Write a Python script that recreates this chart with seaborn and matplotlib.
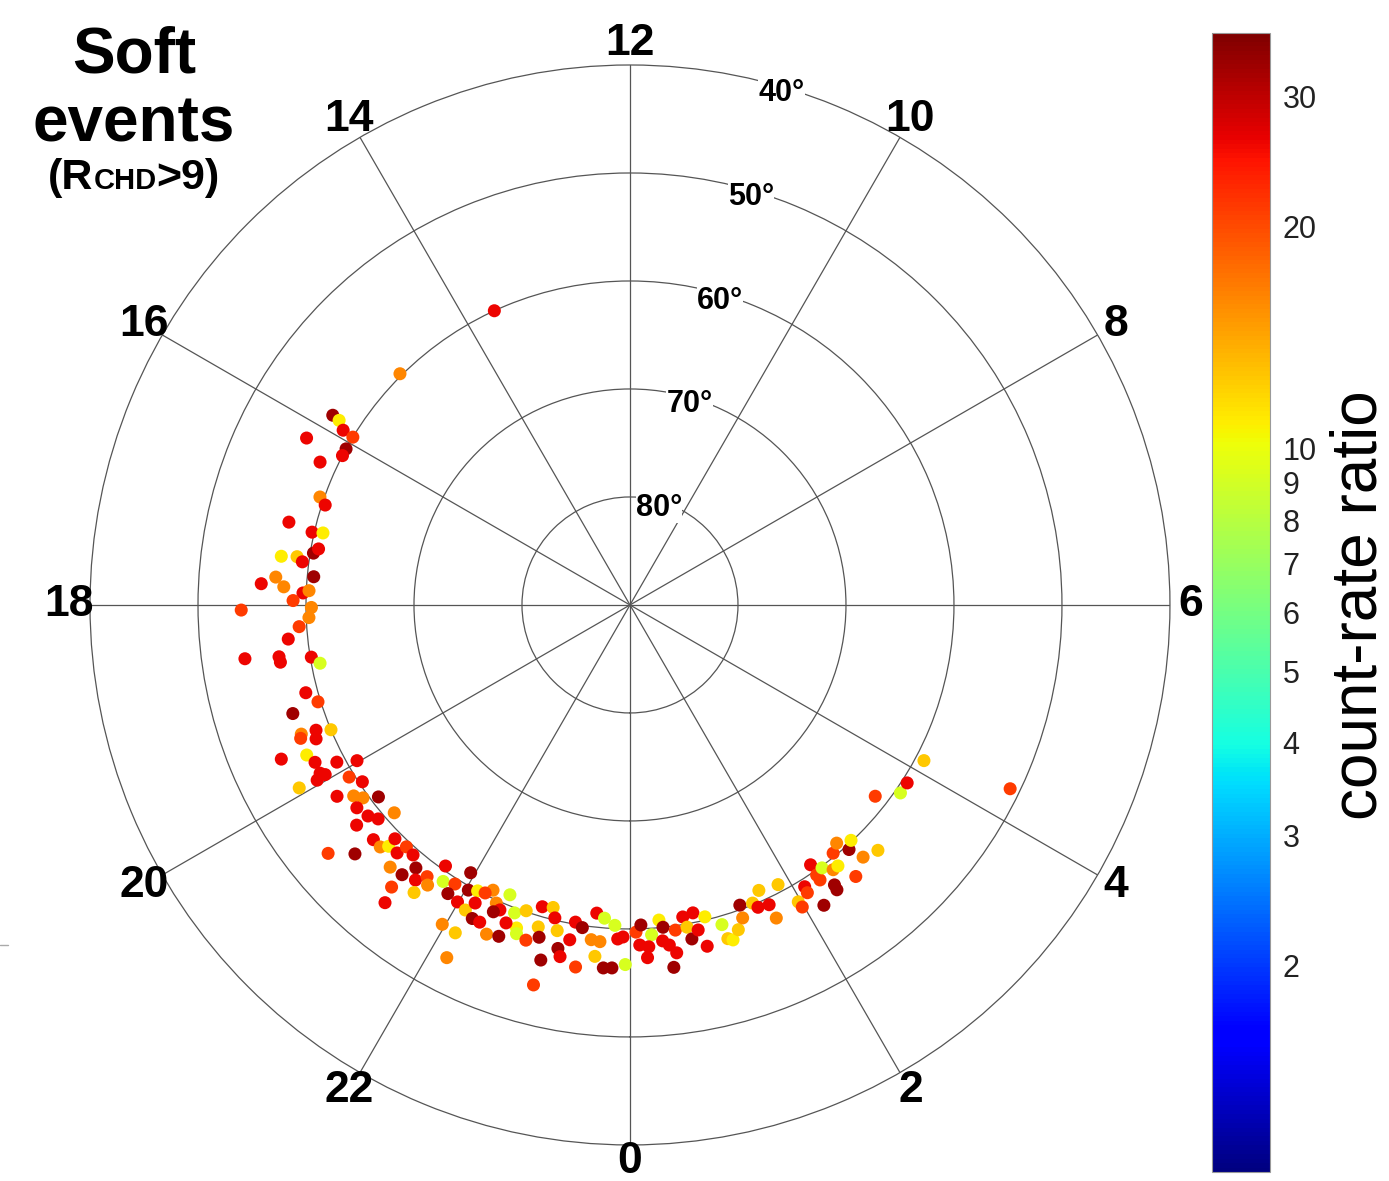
import numpy as np
import pandas as pd
import seaborn as sns
import matplotlib
matplotlib.use('Agg')
import matplotlib.pyplot as plt
import matplotlib.ticker as mticker
from matplotlib.colors import LogNorm
from matplotlib.lines import Line2D

# event positions: magnetic local time (h), magnetic latitude (deg), count-rate ratio
mlt = [13.65, 14.99, 15.83, 15.84, 15.91, 15.92, 16.18, 16.08, 16.17, 16.35,
       16.72, 16.79, 17.09, 17.14, 17.12, 17.47, 17.45, 17.50, 17.38, 17.32,
       17.70, 17.78, 17.80, 17.66, 17.86, 17.83, 17.95, 18.05, 18.03, 18.15,
       18.25, 18.38, 18.53, 18.56, 18.62, 18.62, 18.71, 19.01, 19.15, 19.19,
       19.43, 19.47, 19.45, 19.54, 19.51, 19.59, 19.66, 19.77, 19.90, 19.95,
       19.94, 19.93, 19.88, 19.98, 20.10, 20.23, 20.21, 20.31, 20.39, 20.49,
       20.44, 20.59, 20.69, 20.76, 20.59, 20.83, 20.94, 21.00, 20.99, 21.12,
       21.15, 21.27, 20.63, 20.81, 21.17, 21.32, 21.39, 21.32, 21.47, 21.55,
       21.61, 21.54, 21.37, 21.65, 21.73, 21.86, 21.95, 21.85, 21.99, 22.11,
       22.03, 22.13, 22.17, 22.22, 22.31, 22.29, 22.22, 22.39, 22.46, 22.40,
       22.50, 22.63, 22.71, 22.73, 22.58, 21.97, 22.13, 22.43, 22.56, 22.17,
       22.75, 22.85, 22.92, 22.94, 22.98, 23.05, 23.10, 23.16, 23.21, 23.25,
       23.06, 23.05, 23.32, 23.35, 23.44, 23.43, 23.59, 23.69, 23.82, 23.56,
       23.66, 23.62, 23.72, 23.81, 23.86, 23.92, 23.95, 0.07, 0.13, 0.25,
       0.35, 0.11, 0.21, 0.19, 0.39, 0.37, 0.44, 0.51, 0.46, 0.53,
       0.64, 0.77, 0.67, 0.70, 0.79, 0.90, 0.85, 1.07, 1.09, 1.14,
       1.23, 1.34, 1.32, 1.62, 1.49, 1.53, 1.66, 1.86, 1.67, 1.97,
       1.98, 2.12, 2.11, 2.32, 2.31, 2.31, 2.41, 2.19, 2.50, 2.62,
       2.41, 2.40, 2.73, 2.57, 2.79, 2.88, 2.65, 2.85, 3.02, 3.47,
       3.68, 3.82, 4.14, 4.28]

mlat = [60.0, 59.8, 57.35, 58.1, 58.9, 60.0, 56.3, 60.0, 60.0, 58.4,
        59.6, 60.3, 57.5, 59.8, 60.8, 57.4, 58.85, 59.4, 60.3, 60.7,
        57.1, 55.8, 57.9, 60.6, 59.7, 60.25, 58.8, 54.0, 60.5, 60.25,
        59.3, 58.2, 54.0, 57.15, 57.2, 60.1, 60.8, 58.9, 59.75, 57.2,
        57.3, 57.1, 58.7, 58.4, 60.0, 54.7, 57.0, 57.4, 57.35, 56.8,
        57.7, 55.0, 59.2, 60.9, 59.5, 60.3, 57.6, 58.9, 59.5, 60.7,
        58.5, 58.85, 59.4, 60.9, 57.5, 57.8, 57.8, 58.4, 59.3, 58.5,
        59.5, 59.35, 53.8, 55.65, 57.1, 57.3, 58.6, 55.8, 57.7, 58.6,
        58.0, 56.7, 54.3, 60.4, 59.1, 59.5, 61.15, 58.4, 58.2, 57.9,
        59.65, 60.0, 58.9, 57.5, 57.5, 60.7, 60.15, 59.75, 59.3, 58.9,
        60.95, 59.55, 58.3, 57.8, 58.4, 55.7, 55.6, 56.75, 57.0, 53.2,
        60.1, 57.5, 60.9, 59.0, 58.1, 61.1, 60.2, 59.1, 57.5, 56.8,
        56.1, 53.7, 58.5, 60.2, 59.8, 56.1, 61.3, 60.9, 60.3, 58.8,
        58.7, 57.3, 56.3, 56.35, 59.05, 59.25, 56.7, 59.7, 60.35, 59.4,
        60.7, 58.5, 58.3, 57.3, 60.0, 58.75, 58.3, 57.5, 56.2, 59.6,
        60.7, 60.9, 59.7, 58.55, 59.25, 60.3, 57.6, 59.2, 57.8, 57.55,
        58.3, 60.4, 59.2, 61.0, 60.15, 59.6, 59.4, 60.7, 58.0, 58.4,
        57.8, 59.3, 58.7, 60.7, 59.6, 59.05, 59.85, 56.9, 59.1, 60.3,
        57.9, 57.4, 60.8, 59.1, 59.6, 60.1, 57.3, 58.2, 57.7, 61.2,
        59.5, 59.5, 59.2, 50.9]

ratio = [26, 16, 33, 10.8, 26, 21, 26, 33, 26, 26,
         16, 26, 26, 26, 10.8, 10.8, 12.5, 26, 33, 26,
         16, 26, 16, 33, 26, 16, 21, 21, 16, 16,
         21, 26, 26, 26, 26, 26, 9.2, 26, 21, 33,
         16, 21, 26, 26, 12.5, 26, 10.8, 26, 26, 26,
         26, 12.5, 26, 26, 21, 26, 26, 16, 16, 33,
         26, 26, 26, 16, 26, 26, 16, 10.8, 26, 26,
         21, 26, 21, 33, 16, 33, 33, 21, 26, 21,
         16, 12.5, 26, 26, 9.2, 21, 33, 33, 26, 12.5,
         33, 10.8, 26, 33, 26, 16, 21, 16, 26, 33,
         9.2, 9.2, 10.8, 9.2, 26, 16, 12.5, 16, 33, 16,
         12.5, 21, 26, 12.5, 33, 12.5, 26, 12.5, 33, 26,
         33, 21, 26, 26, 33, 21, 26, 9.2, 9.2, 16,
         16, 12.5, 33, 33, 26, 26, 9.2, 21, 33, 9.2,
         10.8, 26, 26, 26, 33, 26, 26, 26, 33, 21,
         26, 26, 12.5, 33, 26, 10.8, 26, 9.2, 12.5, 10.8,
         12.5, 33, 16, 12.5, 12.5, 26, 26, 12.5, 16, 12.5,
         21, 26, 21, 26, 21, 21, 9.2, 33, 16, 21,
         33, 33, 16, 10.8, 33, 10.8, 21, 16, 12.5, 21,
         9.2, 26, 12.5, 21]

hour_ticks = list(range(0, 24, 2))
lat_circles = [80, 70, 60, 50, 40]
cbar_minor = [2, 3, 4, 5, 6, 7, 8, 9, 20, 30]

sns.set_theme(style='white')
plt.rcParams['font.family'] = ['Liberation Sans', 'DejaVu Sans']
plt.rcParams['text.color'] = 'black'

jet = matplotlib.colormaps['jet']

fig = plt.figure(figsize=(13.89, 11.81), dpi=100)
ax = fig.add_axes([0.0648, 0.0305, 0.7775, 0.9145], projection='polar')

df = pd.DataFrame({'theta': np.deg2rad(np.array(mlt) * 15),
                   'colat': 90 - np.array(mlat),
                   'ratio': ratio})
norm = LogNorm(vmin=1.05, vmax=36.5)
sns.scatterplot(data=df, x='theta', y='colat', hue='ratio', hue_norm=norm,
                palette=jet, s=88, linewidth=0, legend=False, ax=ax, zorder=3)

ax.set_theta_zero_location('S')
ax.set_theta_direction(1)
ax.set_ylim(0, 50)
ax.set_yticks([90 - l for l in lat_circles[:-1]])
ax.set_yticklabels([])
ax.set_xticks(np.deg2rad(np.array(hour_ticks) * 15))
ax.set_xticklabels([])
ax.set_xlabel('')
ax.set_ylabel('')
ax.grid(True, color='#555555', linewidth=0.9)
ax.spines['polar'].set_color('#555555')
ax.spines['polar'].set_linewidth(0.9)

for h in hour_ticks:
    r_lab = 51.5 if h == 0 else 51.95
    ax.text(np.deg2rad(h * 15), r_lab, str(h), ha='center', va='center',
            fontsize=32, fontweight='bold', color='black', clip_on=False)

for lat in lat_circles:
    ax.text(np.deg2rad(10.9 * 15), 90 - lat - 0.6, f'{lat}°', ha='center', va='center',
            fontsize=22, fontweight='bold', color='black', zorder=4,
            bbox=dict(facecolor='white', edgecolor='none', pad=0))

# colorbar
cax = fig.add_axes([0.8726, 0.0076, 0.0418, 0.9644])
sm = plt.cm.ScalarMappable(norm=norm, cmap=jet)
cbar = fig.colorbar(sm, cax=cax)
cbar.outline.set_edgecolor('#999999')
cbar.outline.set_linewidth(0.8)
cbar.set_ticks([10])
cbar.set_ticklabels(['10'])
cax.yaxis.set_minor_locator(mticker.FixedLocator(cbar_minor))
cax.yaxis.set_minor_formatter(mticker.FuncFormatter(lambda v, p: f'{v:g}'))
cax.tick_params(which='major', direction='in', length=32, width=1.4, color='#333333',
                labelsize=22, labelcolor='#222222', pad=9)
cax.tick_params(which='minor', direction='in', length=15, width=1.4, color='#333333',
                labelsize=22, labelcolor='#222222', pad=9)
fig.text(0.979, 0.4877, 'count-rate ratio', rotation=90, fontsize=46,
         ha='center', va='center')

# title block
fig.text(0.0965, 0.939, 'Soft', ha='center', va='baseline', fontsize=46, fontweight='bold')
fig.text(0.0965, 0.8798, 'events', ha='center', va='baseline', fontsize=46, fontweight='bold')

renderer = fig.canvas.get_renderer()
pieces = [('(R', 31), ('CHD', 21), ('>9)', 31)]
texts = [fig.text(0, 0.840, s, ha='left', va='baseline', fontsize=fs, fontweight='bold')
         for s, fs in pieces]
widths = [t.get_window_extent(renderer).width for t in texts]
x_px = 134 - sum(widths) / 2
for t, w in zip(texts, widths):
    t.set_x(x_px / fig.bbox.width)
    x_px += w

fig.add_artist(Line2D([0, 0.006], [0.2, 0.2], color='#aaaaaa', linewidth=1))

fig.savefig('out.png', dpi=100)
